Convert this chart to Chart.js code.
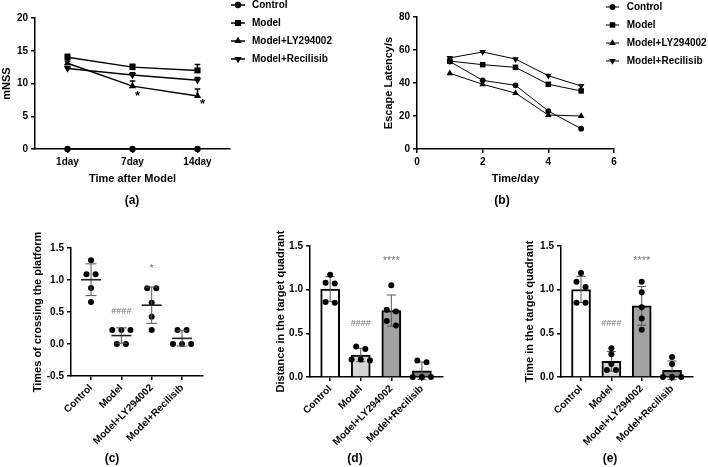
<!DOCTYPE html>
<html>
<head>
<meta charset="utf-8">
<script src="https://cdn.jsdelivr.net/npm/chart.js@4.4.1/dist/chart.umd.min.js"></script>
<style>
  body { margin: 0; background: #fff; }
  #wrap { position: relative; width: 708px; height: 467px; overflow: hidden; background: #fff; }
  canvas { position: absolute; }
  .lab { position: absolute; transform: translate(-50%, -50%); font: bold 12px "Liberation Sans", Arial, sans-serif; color: #000; }
</style>
</head>
<body>
<div id="wrap">
  <canvas id="chartA" width="354" height="190" style="left:0;top:0"></canvas>
  <canvas id="chartB" width="354" height="190" style="left:354px;top:0"></canvas>
  <canvas id="chartC" width="236" height="267" style="left:0;top:200px"></canvas>
  <canvas id="chartD" width="236" height="267" style="left:236px;top:200px"></canvas>
  <canvas id="chartE" width="236" height="267" style="left:472px;top:200px"></canvas>
  <div class="lab" style="left:132px;top:200px">(a)</div>
  <div class="lab" style="left:502px;top:200px">(b)</div>
  <div class="lab" style="left:112px;top:458px">(c)</div>
  <div class="lab" style="left:355px;top:458px">(d)</div>
  <div class="lab" style="left:610px;top:458px">(e)</div>
</div>
<script>
// groups
const groups = ['Control', 'Model', 'Model+LY294002', 'Model+Recilisib'];

// (a) mNSS, mean and SD
const daysA = ['1day', '7day', '14day'];
const mnssControl = [0, 0, 0];
const mnssModel = [14.0, 12.5, 12.0];
const mnssLY = [13.1, 9.6, 8.1];
const mnssRecilisib = [12.3, 11.3, 10.5];
const mnssSdControl = [0, 0, 0];
const mnssSdModel = [0.45, 0.45, 0.9];
const mnssSdLY = [0.3, 0.8, 1.05];
const mnssSdRecilisib = [0.3, 0.35, 0.4];
const yTicksA = [0, 5, 10, 15, 20];

// (b) escape latency
const daysB = [1, 2, 3, 4, 5];
const latControl = [53.0, 41.6, 38.6, 23.0, 12.3];
const latModel = [53.3, 51.1, 49.5, 39.2, 35.2];
const latLY = [45.9, 39.2, 33.9, 20.6, 20.0];
const latRecilisib = [55.2, 58.8, 54.5, 44.4, 38.2];
const xTicksB = [0, 2, 4, 6];
const yTicksB = [0, 20, 40, 60, 80];

// (c) times of crossing the platform (single animals)
const crossControl = [1.31, 1.09, 1.09, 0.875, 0.656];
const crossModel = [0.22, 0.22, 0.22, 0, 0];
const crossLY = [0.87, 0.87, 0.646, 0.427, 0.219];
const crossRecilisib = [0.22, 0.22, 0, 0, 0];
const yTicksC = [-0.5, 0, 0.5, 1.0, 1.5];

// (d) distance in the target quadrant
const distControl = [1.17, 1.08, 1.07, 0.86, 0.85];
const distModel = [0.35, 0.32, 0.2, 0.2, 0.19];
const distLY = [1.05, 0.77, 0.75, 0.64, 0.59];
const distRecilisib = [0.19, 0.17, 0, 0, 0];

// (e) time in the target quadrant
const timeControl = [1.19, 1.09, 1.03, 0.85, 0.85];
const timeModel = [0.33, 0.26, 0.15, 0.08, 0.08];
const timeLY = [1.09, 0.97, 0.80, 0.67, 0.54];
const timeRecilisib = [0.23, 0.15, 0, 0, 0];
const yTicksDE = [0, 0.5, 1.0, 1.5];

const FONT = '"Liberation Sans", Arial, sans-serif';
Chart.defaults.font.family = FONT;
Chart.defaults.font.size = 10;
Chart.defaults.font.weight = 'bold';
Chart.defaults.color = '#000';
Chart.defaults.animation = false;
Chart.defaults.responsive = false;
Chart.defaults.plugins.legend.display = false;
Chart.defaults.plugins.tooltip.enabled = false;

const mean = a => a.reduce((s, v) => s + v, 0) / a.length;
const sd = a => { const m = mean(a); return Math.sqrt(a.reduce((s, v) => s + (v - m) * (v - m), 0) / (a.length - 1)); };

// spread points with (nearly) equal values side by side, like a scatter dot plot
function swarm(values, center, thr, step) {
  const order = values.map((v, i) => i).sort((a, b) => values[b] - values[a]);
  const rows = [];
  order.forEach(i => {
    const row = rows[rows.length - 1];
    if (row && values[row[0]] - values[i] < thr) row.push(i); else rows.push([i]);
  });
  const pts = [];
  rows.forEach(row => row.forEach((i, k) => pts.push({ x: center + (k - (row.length - 1) / 2) * step, y: values[i] })));
  return pts;
}

// legend with line + marker
const lineLegend = {
  id: 'lineLegend',
  afterDraw(chart, args, opts) {
    const ctx = chart.ctx;
    ctx.save();
    chart.data.datasets.forEach((ds, i) => {
      const y = opts.y + i * opts.row;
      ctx.strokeStyle = '#000';
      ctx.fillStyle = '#000';
      ctx.lineWidth = ds.borderWidth;
      ctx.beginPath();
      ctx.moveTo(opts.x, y);
      ctx.lineTo(opts.x + opts.len, y);
      ctx.stroke();
      Chart.helpers.drawPoint(ctx, { pointStyle: ds.pointStyle, rotation: ds.pointRotation || 0, radius: ds.pointRadius, borderWidth: 0 }, opts.x + opts.len / 2, y);
      ctx.font = 'bold 10px ' + FONT;
      ctx.textAlign = 'left';
      ctx.textBaseline = 'middle';
      ctx.fillText(ds.label, opts.x + opts.text, y);
    });
    ctx.restore();
  }
};

// upward SD whiskers for the line chart
const upErrors = {
  id: 'upErrors',
  afterDatasetsDraw(chart, args, opts) {
    const { ctx, scales: { y } } = chart;
    ctx.save();
    ctx.strokeStyle = '#000';
    ctx.lineWidth = opts.width;
    chart.data.datasets.forEach((ds, i) => {
      const err = opts.errors[i];
      chart.getDatasetMeta(i).data.forEach((pt, j) => {
        if (!err[j]) return;
        const top = y.getPixelForValue(ds.data[j] + err[j]);
        ctx.beginPath();
        ctx.moveTo(pt.x, pt.y);
        ctx.lineTo(pt.x, top);
        ctx.moveTo(pt.x - opts.cap, top);
        ctx.lineTo(pt.x + opts.cap, top);
        ctx.stroke();
      });
    });
    ctx.restore();
  }
};

// mean line and SD whiskers for the dot plots / bars
const statBars = {
  id: 'statBars',
  afterDatasetDraw(chart, args, opts) {
    if (args.index !== opts.after) return;
    const { ctx, scales: { x, y } } = chart;
    ctx.save();
    opts.sets.forEach((vals, i) => {
      const m = mean(vals), s = sd(vals);
      const px = x.getPixelForValue(i);
      const top = y.getPixelForValue(m + s), bot = y.getPixelForValue(m - s);
      ctx.strokeStyle = opts.color;
      ctx.lineWidth = opts.width;
      ctx.beginPath();
      ctx.moveTo(px, top); ctx.lineTo(px, bot);
      ctx.moveTo(px - opts.cap, top); ctx.lineTo(px + opts.cap, top);
      ctx.moveTo(px - opts.cap, bot); ctx.lineTo(px + opts.cap, bot);
      ctx.stroke();
      if (opts.meanHalf) {
        const py = y.getPixelForValue(m);
        ctx.strokeStyle = '#222';
        ctx.lineWidth = 1.6;
        ctx.beginPath();
        ctx.moveTo(px - opts.meanHalf, py);
        ctx.lineTo(px + opts.meanHalf, py);
        ctx.stroke();
      }
    });
    ctx.restore();
  }
};

// significance marks
const marks = {
  id: 'marks',
  afterDraw(chart, args, opts) {
    const { ctx, scales: { x, y } } = chart;
    ctx.save();
    ctx.textAlign = 'center';
    ctx.textBaseline = 'middle';
    opts.items.forEach(it => {
      ctx.font = it.font;
      ctx.fillStyle = it.color;
      ctx.fillText(it.text, x.getPixelForValue(it.x) + (it.dx || 0), y.getPixelForValue(it.y) + (it.dy || 0));
    });
    ctx.restore();
  }
};

const border = { color: '#000', width: 1.5 };
const grid = { drawOnChartArea: false, offset: false, color: '#000', lineWidth: 1.5, tickLength: 4 };
const titleFont = { size: 11, weight: 'bold' };

function lineSet(label, data, style, rot, r, w) {
  return {
    label, data, pointStyle: style, pointRotation: rot, pointRadius: r,
    borderColor: '#000', backgroundColor: '#000', pointBackgroundColor: '#000', pointBorderColor: '#000',
    pointBorderWidth: 0, borderWidth: w, clip: false, tension: 0
  };
}
const xy = (xs, ys) => xs.map((v, i) => ({ x: v, y: ys[i] }));

// ---------- (a)
new Chart(document.getElementById('chartA'), {
  type: 'line',
  data: {
    labels: daysA,
    datasets: [
      lineSet('Control', mnssControl, 'circle', 0, 3.2, 1.5),
      lineSet('Model', mnssModel, 'rect', 0, 4.3, 1.5),
      lineSet('Model+LY294002', mnssLY, 'triangle', 0, 4.2, 1.5),
      lineSet('Model+Recilisib', mnssRecilisib, 'triangle', 180, 4.2, 1.5)
    ]
  },
  options: {
    layout: { padding: { top: 18, left: 0, right: 124, bottom: 0 } },
    scales: {
      x: {
        type: 'category', offset: true, border, grid,
        ticks: { padding: 3 },
        title: { display: true, text: 'Time after Model', font: titleFont, padding: { top: 0, bottom: 4.4 } },
        afterFit: s => { s.height = 41; }
      },
      y: {
        min: 0, max: 20, border, grid,
        afterBuildTicks: s => { s.ticks = yTicksA.map(v => ({ value: v })); },
        ticks: { padding: 3 },
        title: { display: true, text: 'mNSS', font: titleFont, padding: { top: 0.4, bottom: 0 } },
        afterFit: s => { s.width = 35; }
      }
    },
    plugins: {
      lineLegend: { x: 231, y: 5, row: 18, len: 14, text: 21 },
      upErrors: { errors: [mnssSdControl, mnssSdModel, mnssSdLY, mnssSdRecilisib], cap: 2.8, width: 1.5 },
      marks: { items: [
        { x: 1, y: mnssLY[1], dx: 5, dy: 10, text: '*', font: 'bold 13px ' + FONT, color: '#000' },
        { x: 2, y: mnssLY[2], dx: 5, dy: 8, text: '*', font: 'bold 13px ' + FONT, color: '#000' }
      ] }
    }
  },
  plugins: [lineLegend, upErrors, marks]
});

// ---------- (b)
new Chart(document.getElementById('chartB'), {
  type: 'line',
  data: {
    datasets: [
      lineSet('Control', xy(daysB, latControl), 'circle', 0, 2.9, 1),
      lineSet('Model', xy(daysB, latModel), 'rect', 0, 3.9, 1),
      lineSet('Model+LY294002', xy(daysB, latLY), 'triangle', 0, 3.8, 1),
      lineSet('Model+Recilisib', xy(daysB, latRecilisib), 'triangle', 180, 3.8, 1)
    ]
  },
  options: {
    layout: { padding: { top: 17, left: 28.4, right: 94, bottom: 0 } },
    scales: {
      x: {
        type: 'linear', min: 0, max: 6, border, grid,
        afterBuildTicks: s => { s.ticks = xTicksB.map(v => ({ value: v })); },
        ticks: { padding: 3 },
        title: { display: true, text: 'Time/day', font: titleFont, padding: { top: 0, bottom: 4.4 } },
        afterFit: s => { s.height = 41; }
      },
      y: {
        min: 0, max: 80, border, grid,
        afterBuildTicks: s => { s.ticks = yTicksB.map(v => ({ value: v })); },
        ticks: { padding: 3 },
        title: { display: true, text: 'Escape Latency/s', font: titleFont, padding: { top: 0, bottom: 0 } },
        afterFit: s => { s.width = 34.6; }
      }
    },
    plugins: {
      lineLegend: { x: 252, y: 7, row: 18, len: 13, text: 20.7 }
    }
  },
  plugins: [lineLegend]
});

// shared x axis for the group panels
function groupX(h) {
  return {
    type: 'linear', min: -0.66, max: 3.69, offset: false, border, grid,
    afterBuildTicks: s => { s.ticks = groups.map((g, i) => ({ value: i })); },
    ticks: { callback: v => groups[v], minRotation: 45, maxRotation: 45, autoSkip: false, padding: 2 },
    afterFit: s => { s.height = h; }
  };
}
function groupY(ticks, title, w, min, max) {
  return {
    min, max, border, grid,
    afterBuildTicks: s => { s.ticks = ticks.map(v => ({ value: v })); },
    ticks: { padding: 3, callback: v => v.toFixed(1) },
    title: { display: true, text: title, font: titleFont, padding: { top: 0, bottom: 0 } },
    afterFit: s => { s.width = w; }
  };
}
function dots(sets, thr, step) {
  return {
    type: 'scatter', order: 1, clip: false,
    data: sets.flatMap((vals, i) => swarm(vals, i, thr, step)),
    pointRadius: 3, pointBackgroundColor: '#000', pointBorderColor: '#000', pointBorderWidth: 0
  };
}

// ---------- (c)
const setsC = [crossControl, crossModel, crossLY, crossRecilisib];
new Chart(document.getElementById('chartC'), {
  type: 'scatter',
  data: { datasets: [dots(setsC, 0.09, 0.3)] },
  options: {
    layout: { padding: { top: 48, left: 31.1, right: 33, bottom: 0 } },
    scales: {
      x: groupX(91),
      y: groupY(yTicksC, 'Times of crossing the platform', 39.9, -0.5, 1.5)
    },
    plugins: {
      statBars: { after: 0, sets: setsC, cap: 5.5, width: 1, color: '#555', meanHalf: 10 },
      marks: { items: [
        { x: 1, y: 0.5, text: '####', font: '9px ' + FONT, color: '#777' },
        { x: 2, y: 1.2, dy: 2, text: '*', font: '11px ' + FONT, color: '#777' }
      ] }
    }
  },
  plugins: [statBars, marks]
});

// bars + dots panels
function barPanel(id, sets, title, pad) {
  return new Chart(document.getElementById(id), {
    type: 'bar',
    data: {
      datasets: [
        {
          order: 2,
          data: sets.map((vals, i) => ({ x: i, y: mean(vals) })),
          backgroundColor: ['#ffffff', '#d6d6d6', '#a3a3a3', '#808080'],
          borderColor: '#000', borderWidth: 2, barThickness: 19
        },
        dots(sets, 0.065, 0.3)
      ]
    },
    options: {
      layout: { padding: { top: 46, left: pad.left, right: pad.right, bottom: 0 } },
      scales: {
        x: groupX(90),
        y: groupY(yTicksDE, title, pad.width, 0, 1.5)
      },
      plugins: {
        statBars: { after: 0, sets, cap: 4.5, width: 1, color: '#555' },
        marks: { items: [
          { x: 1, y: 0.61, text: '####', font: '9px ' + FONT, color: '#777' },
          { x: 2, y: 1.35, dy: 2, text: '****', font: '11px ' + FONT, color: '#777' }
        ] }
      }
    },
    plugins: [statBars, marks]
  });
}

// ---------- (d), (e)
barPanel('chartD', [distControl, distModel, distLY, distRecilisib], 'Distance in the target quadrant', { left: 38.4, width: 35.6, right: 29 });
barPanel('chartE', [timeControl, timeModel, timeLY, timeRecilisib], 'Time in the target quadrant', { left: 51.4, width: 37.6, right: 15 });
</script>
</body>
</html>
